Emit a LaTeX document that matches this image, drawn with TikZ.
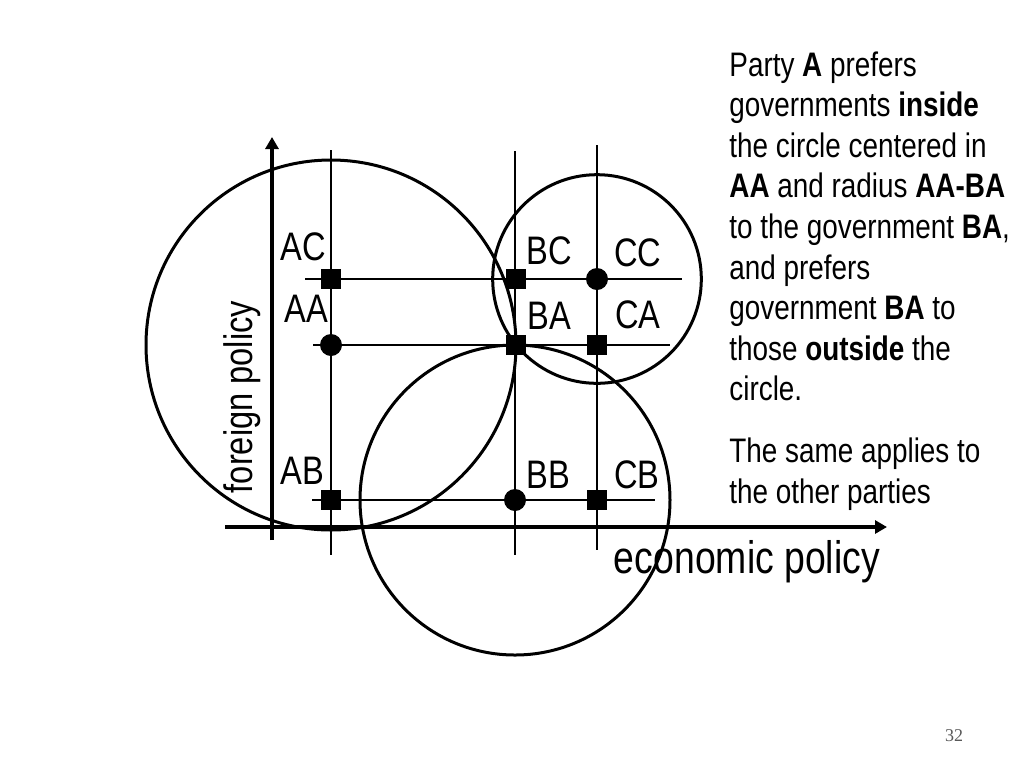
\documentclass[tikz,border=0pt]{standalone}
\usepackage{fontspec}
\setmainfont{Liberation Sans}[FakeStretch=0.82]
\newfontfamily\numfont{Liberation Serif}
\usetikzlibrary{arrows.meta,calc}
\begin{document}
\begin{tikzpicture}[x=0.5pt,y=-0.5pt,
  sq/.style={fill=black,rectangle,minimum size=10pt,inner sep=0},
  dot/.style={fill=black,circle,minimum size=11pt,inner sep=0},
  gridline/.style={line width=1pt},
  ring/.style={line width=1.5pt},
  axis/.style={line width=2pt,-{Triangle[length=6pt,width=6.5pt]}},
  lbl/.style={font=\fontsize{19.9}{24}\selectfont,inner sep=0},
]
\useasboundingbox (0,0) rectangle (1024,768);

% grid line ends
\coordinate (v1t) at (331,150); \coordinate (v1b) at (331,555);
\coordinate (v2t) at (515,151); \coordinate (v2b) at (515,555);
\coordinate (v3t) at (597,145); \coordinate (v3b) at (597,550);
\coordinate (h1l) at (305,279); \coordinate (h1r) at (682,279);
\coordinate (h2l) at (313,345); \coordinate (h2r) at (670,345);
\coordinate (h3l) at (312,500); \coordinate (h3r) at (655,500);
\draw[gridline] (v1t) -- (v1b);
\draw[gridline] (v2t) -- (v2b);
\draw[gridline] (v3t) -- (v3b);
\draw[gridline] (h1l) -- (h1r);
\draw[gridline] (h2l) -- (h2r);
\draw[gridline] (h3l) -- (h3r);

% axes
\coordinate (yb) at (272,540); \coordinate (yt) at (272,137);
\coordinate (xl) at (225,527); \coordinate (xr) at (887,527);
\draw[axis] (yb) -- (yt);
\draw[axis] (xl) -- (xr);

% government points
\node[sq]  (AC) at (331,279) {};
\node[sq]  (BC) at (516,279) {};
\node[dot] (CC) at (597,279) {};
\node[dot] (AA) at (331,345) {};
\node[sq]  (BA) at (516,345) {};
\node[sq]  (CA) at (597,345) {};
\node[sq]  (AB) at (331,500) {};
\node[dot] (BB) at (515,500) {};
\node[sq]  (CB) at (597,500) {};

% indifference circles
\draw[ring] let \p1=($(BA)-(AA)$), \n1={veclen(\x1,\y1)} in (AA) circle[radius=\n1];
\draw[ring] let \p1=($(BA)-(CC)$), \n1={veclen(\x1,\y1)} in (CC) circle[radius=\n1];
\draw[ring] let \p1=($(BA)-(BB)$), \n1={veclen(\x1,\y1)} in (BB) circle[radius=\n1];

% labels
\node[lbl] (lAC) at (303,247) {AC};
\node[lbl] (lAA) at (306,309) {AA};
\node[lbl] (lAB) at (302,471) {AB};
\node[lbl] (lBC) at (549,251) {BC};
\node[lbl] (lBA) at (549,316) {BA};
\node[lbl] (lBB) at (548,475) {BB};
\node[lbl] (lCC) at (638,253) {CC};
\node[lbl] (lCA) at (638,315) {CA};
\node[lbl] (lCB) at (637,475) {CB};

\node[font=\fontsize{19.9}{24}\selectfont,inner sep=0,rotate=90] (fp) at (242,397) {foreign policy};
\node[font=\fontsize{22.8}{27}\selectfont,inner sep=0] (ep) at (747,562) {economic policy};

\node[anchor=north west,align=left,inner sep=0,font=\fontsize{17}{20.3}\selectfont] (txt) at (729,51)
{Party \textbf{A} prefers\\
governments \textbf{inside}\\
the circle centered in\\
\textbf{AA} and radius \textbf{AA-BA}\\
to the government \textbf{BA},\\
and prefers\\
government \textbf{BA} to\\
those \textbf{outside} the\\
circle.\\[10.7pt]
The same applies to\\
the other parties};

\node[font=\numfont\fontsize{9}{11}\selectfont,text=black!65,inner sep=0] (pg) at (954,736) {32};
\end{tikzpicture}
\end{document}
